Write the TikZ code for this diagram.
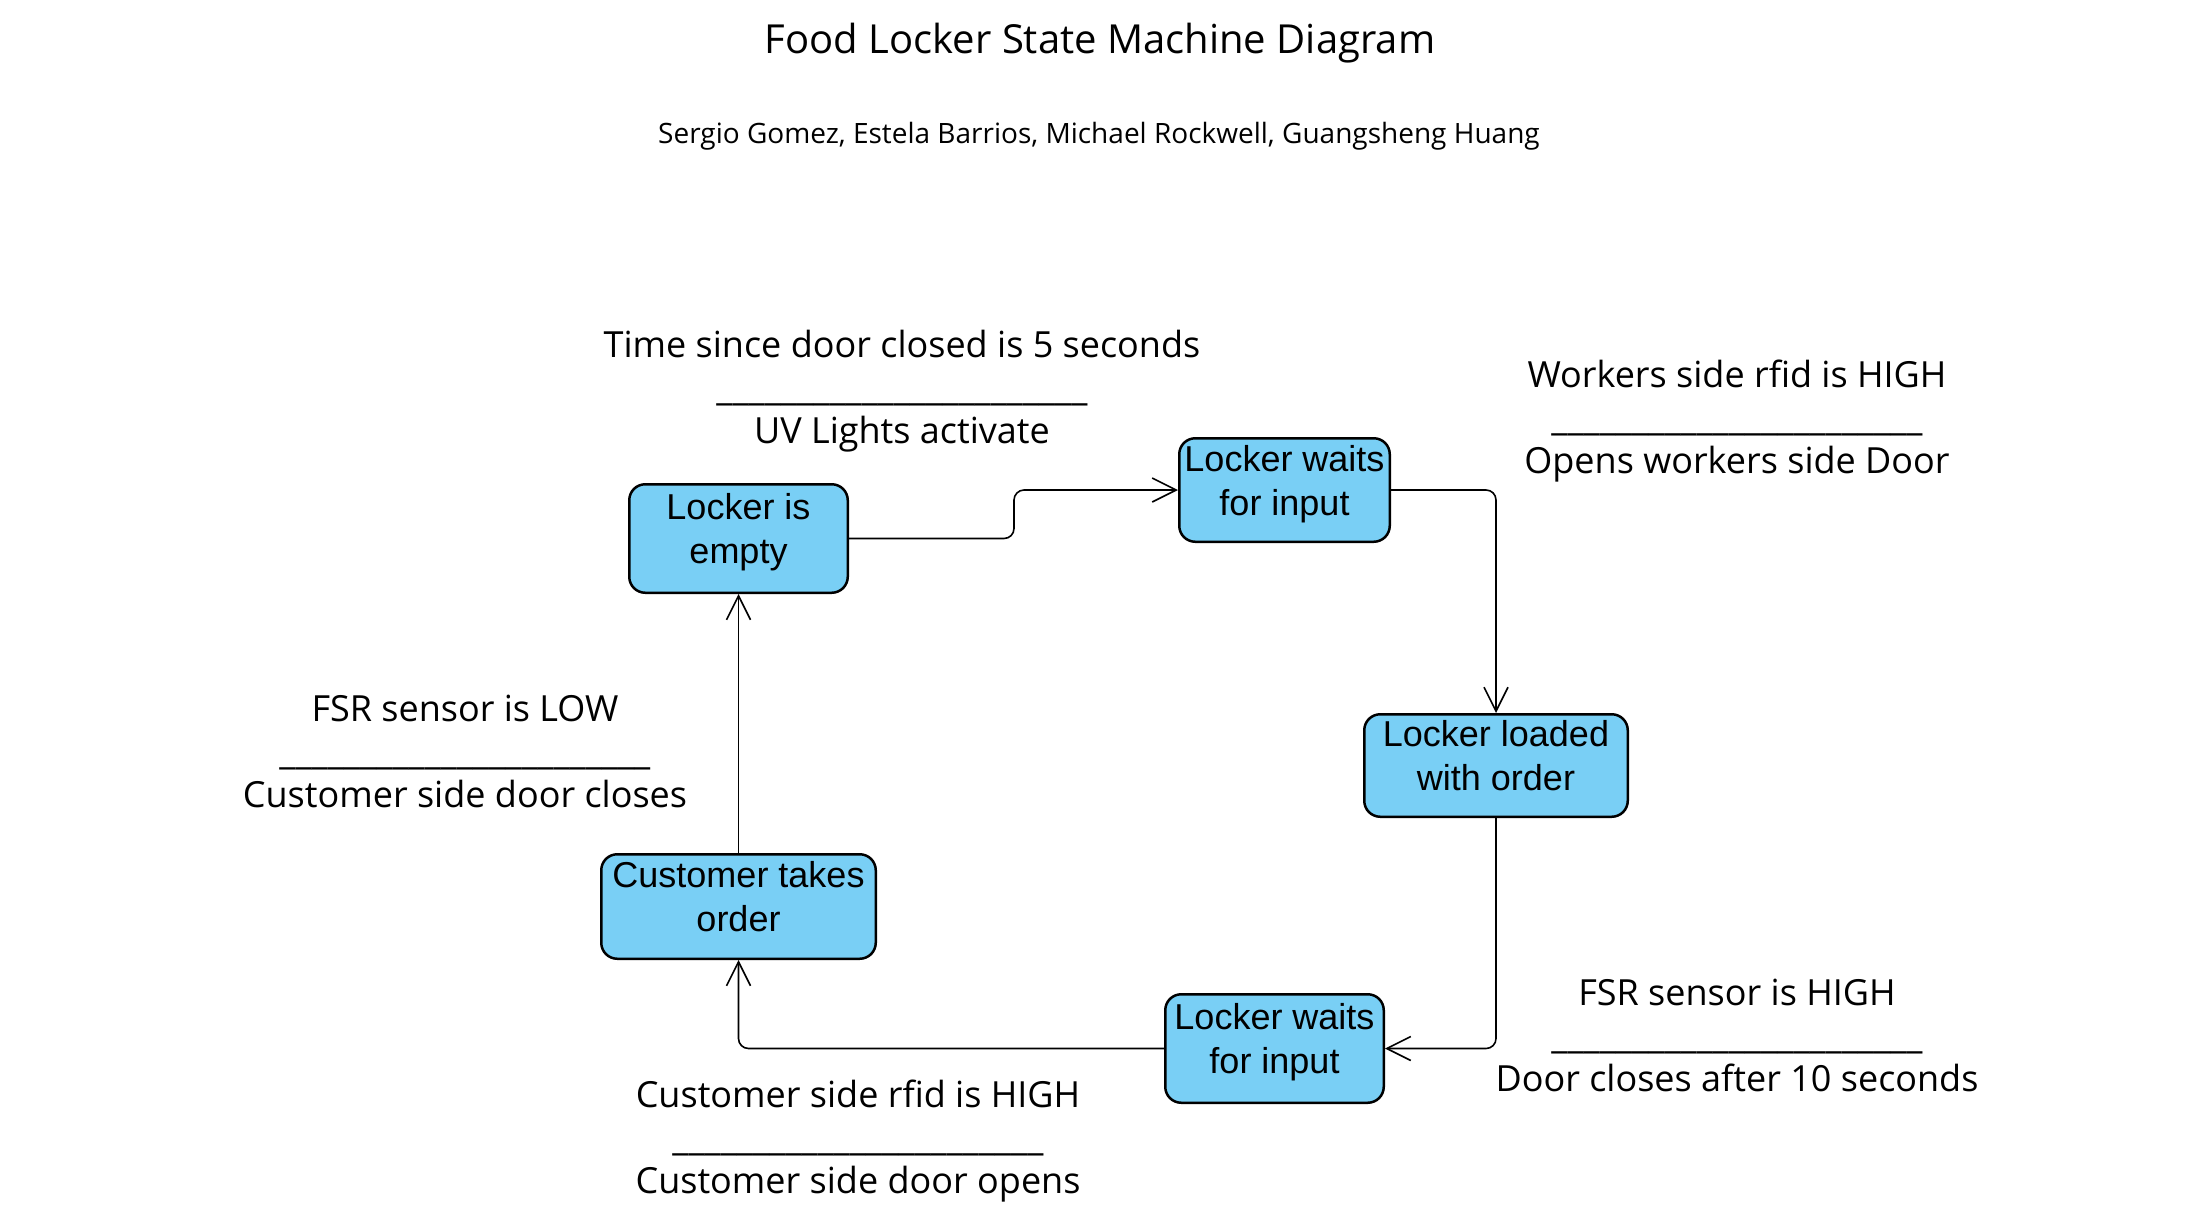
\documentclass[tikz,border=0pt]{standalone}
\usepackage{fontspec}
\setmainfont{Liberation Sans}
\newfontfamily\osans{Open Sans}
\usetikzlibrary{arrows.meta}
\definecolor{boxblue}{RGB}{121,207,245}
\newcommand\mylines[1]{\begin{tabular}[t]{@{}c@{}}#1\end{tabular}}
\newcommand\myrule{\_\_\_\_\_\_\_\_\_\_\_\_\_\_\_\_\_\_\_\_\_\_\_}
\begin{document}
\begin{tikzpicture}[x=1pt,y=-1pt,
  statebox/.style={draw=black, line width=2.5pt, rounded corners=16pt, fill=boxblue,
    inner sep=0pt, font=\fontsize{36}{44}\selectfont, text height=20pt, text depth=58pt},
  conn/.style={draw=black, line width=1.6pt, rounded corners=10pt,
    -{Straight Barb[length=24pt,width=24pt,line width=1.6pt]}},
  lbl/.style={anchor=base, inner sep=0pt, font=\osans\fontsize{36}{43}\selectfont},
  title/.style={anchor=base, inner sep=0pt, font=\osans\fontsize{40}{48}\selectfont},
  authors/.style={anchor=base, inner sep=0pt, font=\osans\fontsize{28}{34}\selectfont}]
\fill[white] (0,0) rectangle (2200,1208);
\useasboundingbox (0,0) rectangle (2200,1208);

\node[title] (ttl) at (1100,53) {Food Locker State Machine Diagram};
\node[authors] (auth) at (1099,143) {Sergio Gomez, Estela Barrios, Michael Rockwell, Guangsheng Huang};

\node[statebox, minimum width=218.5pt, minimum height=108.5pt] (b1) at (738.5,538.5) {\mylines{Locker is\\empty}};
\node[statebox, minimum width=210.5pt, minimum height=103.5pt] (b2) at (1284.5,490) {\mylines{Locker waits\\for input}};
\node[statebox, minimum width=263.5pt, minimum height=102.5pt] (b3) at (1496,765.5) {\mylines{Locker loaded\\with order}};
\node[statebox, minimum width=218.5pt, minimum height=108.5pt] (b4) at (1274.5,1048.5) {\mylines{Locker waits\\for input}};
\node[statebox, minimum width=274.5pt, minimum height=104.5pt] (b5) at (738.5,906.5) {\mylines{Customer takes\\order}};

\draw[conn] (b1.east) -- ++(165,0) |- (b2.west);
\draw[conn] (b2.east) -| (b3.north);
\draw[conn] (b3.south) |- (b4.east);
\draw[conn] (b4.west) -| (b5.south);
\draw[conn] (b5.north) -- (b1.south);

\node[lbl] (la) at (902,357) {\mylines{Time since door closed is 5 seconds\\\myrule\\UV Lights activate}};
\node[lbl] (lb) at (1737,387) {\mylines{Workers side rfid is HIGH\\\myrule\\Opens workers side Door}};
\node[lbl] (lc) at (465,721) {\mylines{FSR sensor is LOW\\\myrule\\Customer side door closes}};
\node[lbl] (ld) at (1737,1005) {\mylines{FSR sensor is HIGH\\\myrule\\Door closes after 10 seconds}};
\node[lbl] (le) at (858,1107) {\mylines{Customer side rfid is HIGH\\\myrule\\Customer side door opens}};
\end{tikzpicture}
\end{document}
